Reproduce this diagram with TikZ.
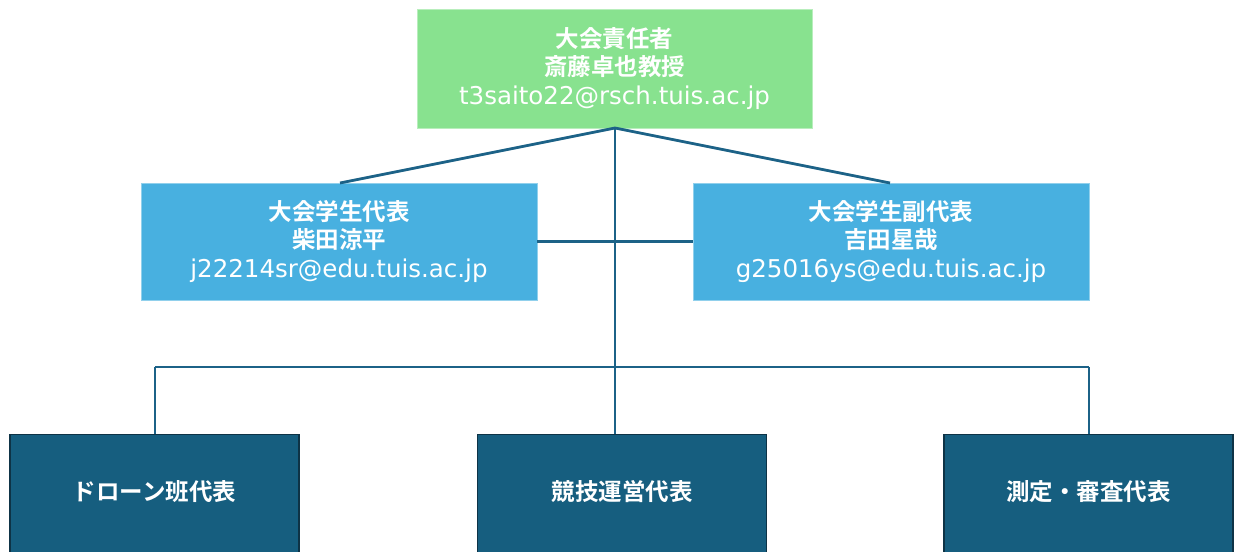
\documentclass[tikz,border=0pt]{standalone}
\usepackage{fontspec}
\newfontfamily\jp{Noto Sans CJK JP}[BoldFont={Noto Sans CJK JP Bold}]
\newfontfamily\lat{DejaVu Sans}
\definecolor{topgreen}{HTML}{88E28F}
\definecolor{midblue}{HTML}{48B0E0}
\definecolor{darkteal}{HTML}{165E7F}
\definecolor{darkedge}{HTML}{0E3346}
\definecolor{linecol}{HTML}{1C6287}
\tikzset{
  box/.style={rectangle, inner sep=0pt, text=white, align=center, font=\jp\bfseries\fontsize{23.5}{28}\selectfont},
  topbox/.style={box, fill=topgreen, draw=topgreen!60!white, line width=0.8pt, minimum width=395pt, minimum height=119pt},
  midbox/.style={box, fill=midblue, draw=midblue!60!white, line width=0.8pt, minimum width=396pt, minimum height=117pt},
  botbox/.style={box, fill=darkteal, draw=darkedge, line width=1.2pt, minimum width=289pt, minimum height=140pt},
  conn/.style={draw=linecol, line width=2.8pt}
}
\newcommand{\mailtxt}[1]{{\lat\mdseries\fontsize{24.5}{28}\selectfont #1}}
\begin{document}
\begin{tikzpicture}[x=1pt,y=-1pt]
\useasboundingbox[fill=white] (0,0) rectangle (1238,551);
\coordinate (hub) at (615,128);
\coordinate (lt) at (340,183);
\coordinate (rt) at (890,183);
\coordinate (bl) at (155,367);
\coordinate (br) at (1089,367);
\coordinate (bm) at (615,367);
\node[topbox] (top) at (614.5,68.5) {大会責任者\\斎藤卓也教授\\[1pt]\mailtxt{t3saito22@rsch.tuis.ac.jp}};
\node[midbox] (ml) at (339,241.5) {大会学生代表\\柴田涼平\\[1pt]\mailtxt{j22214sr@edu.tuis.ac.jp}};
\node[midbox] (mr) at (891,241.5) {大会学生副代表\\吉田星哉\\[1pt]\mailtxt{g25016ys@edu.tuis.ac.jp}};
\node[botbox, anchor=north] (b1) at (154.5,434) {};
\node[botbox, anchor=north] (b2) at (622,434) {};
\node[botbox, anchor=north] (b3) at (1088.5,434) {};
\node[box] (t1) at (154.5,492) {ドローン班代表};
\node[box] (t2) at (622,492) {競技運営代表};
\node[box] (t3) at (1088.5,492) {測定・審査代表};
\draw[conn] (hub) -- (lt);
\draw[conn] (hub) -- (rt);
\draw[conn] (hub) -- (bm);
\draw[conn] (ml.east) -- (mr.west);
\draw[conn] (bl) -- (br);
\draw[conn] (bl) -- (b1.north -| bl);
\draw[conn] (br) -- (b3.north -| br);
\draw[conn] (bm) -- (b2.north -| bm);
\end{tikzpicture}
\end{document}
